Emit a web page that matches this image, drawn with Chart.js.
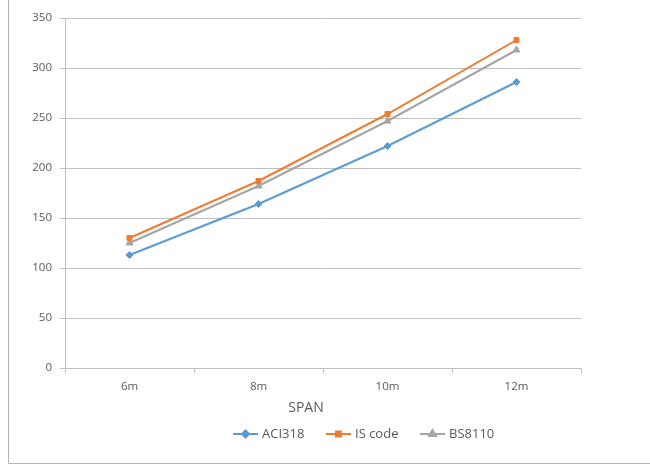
<!DOCTYPE html>
<html>
<head>
<meta charset="utf-8">
<script src="https://cdn.jsdelivr.net/npm/chart.js@4.4.1/dist/chart.umd.min.js"></script>
<style>
  html, body { margin: 0; padding: 0; background: #ffffff; }
  #wrap { width: 650px; height: 466px; position: relative; }
</style>
</head>
<body>
<div id="wrap"><canvas id="span-chart"></canvas></div>
<script>
const SPANS = ['6m', '8m', '10m', '12m'];
const ACI318 = [113, 164, 222, 286];
const IS_CODE = [130, 187, 254, 328];
const BS8110 = [125, 182, 247, 318];
const Y_TICKS = [0, 50, 100, 150, 200, 250, 300, 350];
const X_TITLE = 'SPAN';

const FONT = "'Open Sans', 'Liberation Sans', sans-serif";
const TEXT_COLOR = '#595959';

const series = [
  { label: 'ACI318', data: ACI318, color: '#5b9bd5', style: 'rectRot', radius: 3.5 },
  { label: 'IS code', data: IS_CODE, color: '#ed7d31', style: 'rect', radius: 3.5 },
  { label: 'BS8110', data: BS8110, color: '#a5a5a5', style: 'triangle', radius: 4 },
];

// outer frame, x title and legend are drawn like the Excel export
const framePlugin = {
  id: 'frame',
  afterDraw(chart) {
    const ctx = chart.ctx;
    ctx.save();
    ctx.strokeStyle = '#b4b4b4';
    ctx.lineWidth = 1;
    ctx.beginPath();
    ctx.moveTo(8.5, 0);
    ctx.lineTo(8.5, 463.5);
    ctx.lineTo(650, 463.5);
    ctx.stroke();

    ctx.fillStyle = TEXT_COLOR;
    ctx.font = `14px ${FONT}`;
    ctx.textAlign = 'center';
    ctx.textBaseline = 'middle';
    ctx.fillText(X_TITLE, 306, 408);

    const legendX = [233, 326, 420];
    ctx.font = `13px ${FONT}`;
    ctx.textAlign = 'left';
    series.forEach((s, i) => {
      const x = legendX[i];
      const y = 434;
      ctx.strokeStyle = s.color;
      ctx.lineWidth = 2;
      ctx.beginPath();
      ctx.moveTo(x, y);
      ctx.lineTo(x + 25, y);
      ctx.stroke();
      ctx.fillStyle = s.color;
      Chart.helpers.drawPoint(ctx, {
        pointStyle: s.style,
        radius: s.radius,
        borderWidth: 1,
        rotation: 0,
      }, x + 12.5, y);
      ctx.fillStyle = TEXT_COLOR;
      ctx.fillText(s.label, x + 29, y);
    });
    ctx.restore();
  },
};

function renderChart() {
  const canvas = document.getElementById('span-chart');

  new Chart(canvas, {
    type: 'line',
    data: {
      labels: SPANS,
      datasets: series.map((s) => ({
        label: s.label,
        data: s.data,
        borderColor: s.color,
        backgroundColor: s.color,
        borderWidth: 2,
        pointStyle: s.style,
        pointRadius: s.radius,
        pointBorderWidth: 1,
        pointBackgroundColor: s.color,
        pointBorderColor: s.color,
        tension: 0,
      })),
    },
    options: {
      animation: false,
      responsive: true,
      maintainAspectRatio: false,
      layout: {
        padding: { left: 0, right: 69, top: 18, bottom: 0 },
      },
      plugins: {
        legend: { display: false },
        tooltip: { enabled: false },
      },
      scales: {
        x: {
          offset: true,
          afterFit: (scale) => { scale.height = 98; },
          grid: {
            offset: true,
            drawOnChartArea: false,
            color: '#bfbfbf',
            tickLength: 5,
          },
          border: { color: '#bfbfbf' },
          ticks: {
            color: TEXT_COLOR,
            font: { family: FONT, size: 11.5 },
            padding: 7,
          },
        },
        y: {
          min: 0,
          max: 350,
          afterFit: (scale) => { scale.width = 65; },
          afterBuildTicks: (scale) => {
            scale.ticks = Y_TICKS.map((value) => ({ value }));
          },
          grid: {
            color: '#bfbfbf',
            tickLength: 5,
          },
          border: { color: '#bfbfbf' },
          ticks: {
            color: TEXT_COLOR,
            font: { family: FONT, size: 11.5 },
            padding: 8,
          },
        },
      },
    },
    plugins: [framePlugin],
  });
}

window.addEventListener('DOMContentLoaded', renderChart);
</script>
</body>
</html>
